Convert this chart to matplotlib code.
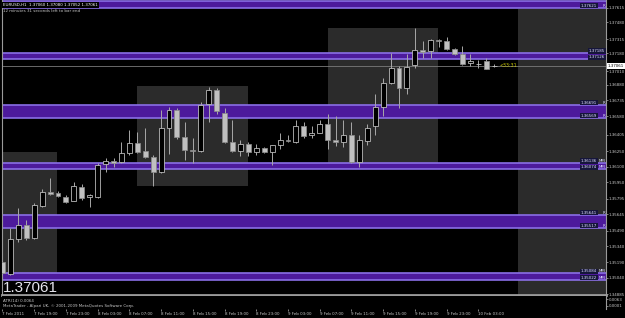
import matplotlib
matplotlib.use('Agg')
import matplotlib.pyplot as plt
from matplotlib.patches import Rectangle
from matplotlib.transforms import blended_transform_factory

# EURUSD H1 bars, 7 Feb 15:00 .. 10 Feb 05:00
opens = [1.35190, 1.35076, 1.35409, 1.35542, 1.35419, 1.35723, 1.35856, 1.35847, 1.35809, 1.35771,
         1.35904, 1.35809, 1.35809, 1.36122, 1.36151, 1.36141, 1.36227, 1.36322, 1.36246, 1.36189,
         1.36046, 1.36474, 1.36645, 1.36379, 1.36256, 1.36246, 1.36703, 1.36836, 1.36617, 1.36332,
         1.36246, 1.36313, 1.36237, 1.36275, 1.36237, 1.36303, 1.36351, 1.36332, 1.36484, 1.36398,
         1.36417, 1.36503, 1.36351, 1.36332, 1.36398, 1.36141, 1.36341, 1.36484, 1.36674, 1.36902,
         1.37045, 1.36855, 1.37073, 1.37216, 1.37207, 1.37311, 1.37302, 1.37226, 1.37178, 1.37092,
         1.37083, 1.37111, 1.37060]
highs = [1.35209, 1.35514, 1.35704, 1.35590, 1.35752, 1.35885, 1.35989, 1.35866, 1.35828, 1.35951,
         1.35932, 1.35837, 1.36132, 1.36179, 1.36179, 1.36332, 1.36455, 1.36436, 1.36474, 1.36208,
         1.36645, 1.36674, 1.36664, 1.36522, 1.36370, 1.36722, 1.36864, 1.36855, 1.36664, 1.36550,
         1.36351, 1.36332, 1.36313, 1.36284, 1.36303, 1.36417, 1.36398, 1.36541, 1.36522, 1.36493,
         1.36550, 1.36607, 1.36588, 1.36541, 1.36522, 1.36398, 1.36512, 1.36798, 1.36950, 1.37188,
         1.37064, 1.37178, 1.37425, 1.37302, 1.37321, 1.37316, 1.37340, 1.37235, 1.37254, 1.37178,
         1.37121, 1.37140, 1.37080]
lows = [1.35067, 1.35067, 1.35381, 1.35400, 1.35410, 1.35713, 1.35828, 1.35809, 1.35752, 1.35771,
        1.35780, 1.35713, 1.35799, 1.36046, 1.36094, 1.36132, 1.36208, 1.36227, 1.36179, 1.35913,
        1.36037, 1.36218, 1.36360, 1.36160, 1.36132, 1.36237, 1.36522, 1.36607, 1.36322, 1.36237,
        1.36198, 1.36198, 1.36208, 1.36227, 1.36113, 1.36265, 1.36332, 1.36322, 1.36370, 1.36370,
        1.36417, 1.36265, 1.36294, 1.36284, 1.36132, 1.36094, 1.36303, 1.36398, 1.36588, 1.36893,
        1.36664, 1.36798, 1.37045, 1.37140, 1.37140, 1.37245, 1.37216, 1.37169, 1.37073, 1.37064,
        1.37045, 1.37035, 1.37052]
closes = [1.35086, 1.35409, 1.35542, 1.35419, 1.35732, 1.35856, 1.35837, 1.35818, 1.35761, 1.35913,
          1.35799, 1.35828, 1.36113, 1.36151, 1.36132, 1.36227, 1.36322, 1.36237, 1.36189, 1.36046,
          1.36474, 1.36645, 1.36379, 1.36256, 1.36246, 1.36693, 1.36836, 1.36636, 1.36332, 1.36246,
          1.36313, 1.36237, 1.36275, 1.36237, 1.36303, 1.36351, 1.36341, 1.36484, 1.36389, 1.36417,
          1.36503, 1.36351, 1.36332, 1.36398, 1.36141, 1.36351, 1.36474, 1.36674, 1.36902, 1.37045,
          1.36855, 1.37054, 1.37216, 1.37197, 1.37311, 1.37302, 1.37226, 1.37178, 1.37083, 1.37111,
          1.37083, 1.37035, 1.37061]

# support / resistance zones (lower, upper) and their tags
zone_low = [1.37618, 1.37126, 1.36569, 1.36074, 1.35517, 1.35022]
zone_high = [1.37682, 1.37185, 1.36691, 1.36136, 1.35641, 1.35084]
zone_tags = ['R', '', 'R', 'MM', 'R', 'MM']
top_label = 1.37621

# session boxes: bar index start/end, price low/high
box_x0 = [-0.1, 16.96, 41.05, 65.0]
box_x1 = [6.9, 31.02, 54.9, 77.0]
box_lo = [1.35049, 1.35916, 1.36117, 1.34800]
box_hi = [1.36240, 1.36870, 1.37423, 1.37604]

price_ticks = [1.37615, 1.37480, 1.37315, 1.37180, 1.37010, 1.36880, 1.36735, 1.36580, 1.36405,
               1.36250, 1.36100, 1.35950, 1.35795, 1.35645, 1.35490, 1.35340, 1.35190, 1.35040, 1.34885]
time_pos = [0, 4, 8, 12, 16, 20, 24, 28, 32, 36, 40, 44, 48, 52, 56, 60]
time_labels = ['7 Feb 2011', '7 Feb 19:00', '7 Feb 23:00', '8 Feb 03:00', '8 Feb 07:00',
               '8 Feb 11:00', '8 Feb 15:00', '8 Feb 19:00', '8 Feb 23:00', '9 Feb 03:00',
               '9 Feb 07:00', '9 Feb 11:00', '9 Feb 15:00', '9 Feb 19:00', '9 Feb 23:00',
               '10 Feb 03:00']
atr_ticks = [0.0063, 0.0001]
atr_value = 0.0064

W, H = 625, 318
BG = '#000000'
FRAME = '#9a9a9a'
TXT = '#c8c8c8'
SMALL = 2.9
XLIM = (-0.06, 76.1)

fig = plt.figure(figsize=(W / 100, H / 100), dpi=100, facecolor=BG)


def fx(x):
    return x / W


def fy(y):
    return 1 - y / H


ax = fig.add_axes([fx(2), fy(295), fx(604), 295 / H], facecolor=BG)
ax.set_xlim(*XLIM)
ax.set_ylim(1.34877, 1.37690)

# session boxes
for x0, x1, lo, hi in zip(box_x0, box_x1, box_lo, box_hi):
    ax.add_patch(Rectangle((x0, lo), x1 - x0, hi - lo, facecolor='#2b2b2b', edgecolor='none', zorder=0.5))

# zones
for lo, hi in zip(zone_low, zone_high):
    ax.axhspan(lo, hi, facecolor='#4d1a9c', edgecolor='none', zorder=1)
    ax.axhline(lo, color='#8a6fe6', lw=1.2, zorder=1.2)
    ax.axhline(hi, color='#8a6fe6', lw=1.2, zorder=1.2)

# current price line
ax.axhline(closes[-1], color='#7a7a7a', lw=0.6, zorder=1.5)

# candles
for i, (o, h, l, c) in enumerate(zip(opens, highs, lows, closes)):
    bull = c >= o
    ax.vlines(i, l, h, color='#a8a8a8', lw=0.7, zorder=3)
    ax.bar(i, max(abs(c - o), 0.00001), bottom=min(o, c), width=0.62,
           color='#000000' if bull else '#c0c0c0',
           edgecolor='#c8c8c8' if bull else '#8a8a8a', linewidth=0.55, zorder=4)

# frame
ax.spines['top'].set_visible(False)
ax.spines['left'].set_color(FRAME)
ax.spines['left'].set_linewidth(0.8)
ax.spines['right'].set_color(FRAME)
ax.spines['right'].set_linewidth(0.8)
ax.spines['bottom'].set_color(FRAME)
ax.spines['bottom'].set_linewidth(2)

ax.set_xticks([])
ax.yaxis.tick_right()
ax.set_yticks(price_ticks)
ax.set_yticklabels([f'{p:.5f}' for p in price_ticks])
ax.tick_params(axis='y', colors=FRAME, labelcolor=TXT, labelsize=SMALL, length=1.5, width=0.6, pad=0.5)

# zone price labels
tr = blended_transform_factory(fig.transFigure, ax.transData)
for k, (lo, hi, tag) in enumerate(zip(zone_low, zone_high, zone_tags)):
    xr = 597 if tag else 605
    prices = [top_label] if k == 0 else [hi, lo]
    for p in prices:
        y = lo if k == 0 else p
        ax.text(fx(xr), y, f'{p:.5f}', transform=tr, ha='right', va='bottom', fontsize=SMALL,
                color='#e0e0ff', zorder=6,
                bbox=dict(boxstyle='square,pad=0.15', facecolor='#16163a', edgecolor='none'))
        if tag:
            ax.text(fx(605), y, tag, transform=tr, ha='right', va='bottom', fontsize=SMALL,
                    color='#e0e0ff', zorder=6)

# current price box on the scale
ax.text(fx(608), closes[-1], f'{closes[-1]:.5f}', transform=tr, ha='left', va='center',
        fontsize=SMALL, color='#000000',
        bbox=dict(boxstyle='square,pad=0.15', facecolor='#ffffff', edgecolor='none'), clip_on=False)

# bar timer
ax.text(fx(500), closes[-1], '<33:31', transform=tr, ha='left', va='center', fontsize=SMALL + 0.5,
        color='#c8c800', zorder=6)

# header text
fig.text(fx(3), fy(5), f'EURUSD,H1  {opens[-1]:.5f} {highs[-1]:.5f} {lows[-1]:.5f} {closes[-1]:.5f}',
         ha='left', va='center', fontsize=SMALL, color='#ffffff',
         bbox=dict(boxstyle='square,pad=0.2', facecolor='#000000', edgecolor='none'))
fig.text(fx(3), fy(10.5), '12 minutes 31 seconds left to bar end', ha='left', va='center',
         fontsize=SMALL, color=TXT)

# big price
fig.text(fx(3), fy(292.5), f'{closes[-1]:.5f}', ha='left', va='baseline', fontsize=11,
         family='Liberation Sans', color='#e4e4ec')

# ATR sub window
ax2 = fig.add_axes([fx(2), fy(309), fx(604), 13 / H], facecolor=BG)
ax2.set_xlim(*XLIM)
ax2.set_ylim(-0.0026, 0.009)
for s in ['top', 'left', 'bottom']:
    ax2.spines[s].set_visible(False)
ax2.spines['right'].set_color(FRAME)
ax2.spines['right'].set_linewidth(0.8)
ax2.yaxis.tick_right()
ax2.set_yticks(atr_ticks)
ax2.set_yticklabels([f'{v:.4f}' for v in atr_ticks])
ax2.tick_params(axis='y', colors=FRAME, labelcolor=TXT, labelsize=SMALL, length=1.5, width=0.6, pad=0.5)
ax2.set_xticks(time_pos)
ax2.set_xticklabels(time_labels)
ax2.tick_params(axis='x', colors=FRAME, labelcolor=TXT, labelsize=SMALL, length=1.5, width=0.6, pad=0.5)
for lab in ax2.get_xticklabels():
    lab.set_ha('left')

fig.text(fx(3), fy(300.5), f'ATR(14) {atr_value:.4f}', ha='left', va='center', fontsize=SMALL, color=TXT)
fig.text(fx(3), fy(305.5), 'MetaTrader - Alpari UK, \u00a9 2001-2009 MetaQuotes Software Corp.',
         ha='left', va='center', fontsize=SMALL, color=TXT)

fig.savefig('out.png', dpi=100, facecolor=BG)
